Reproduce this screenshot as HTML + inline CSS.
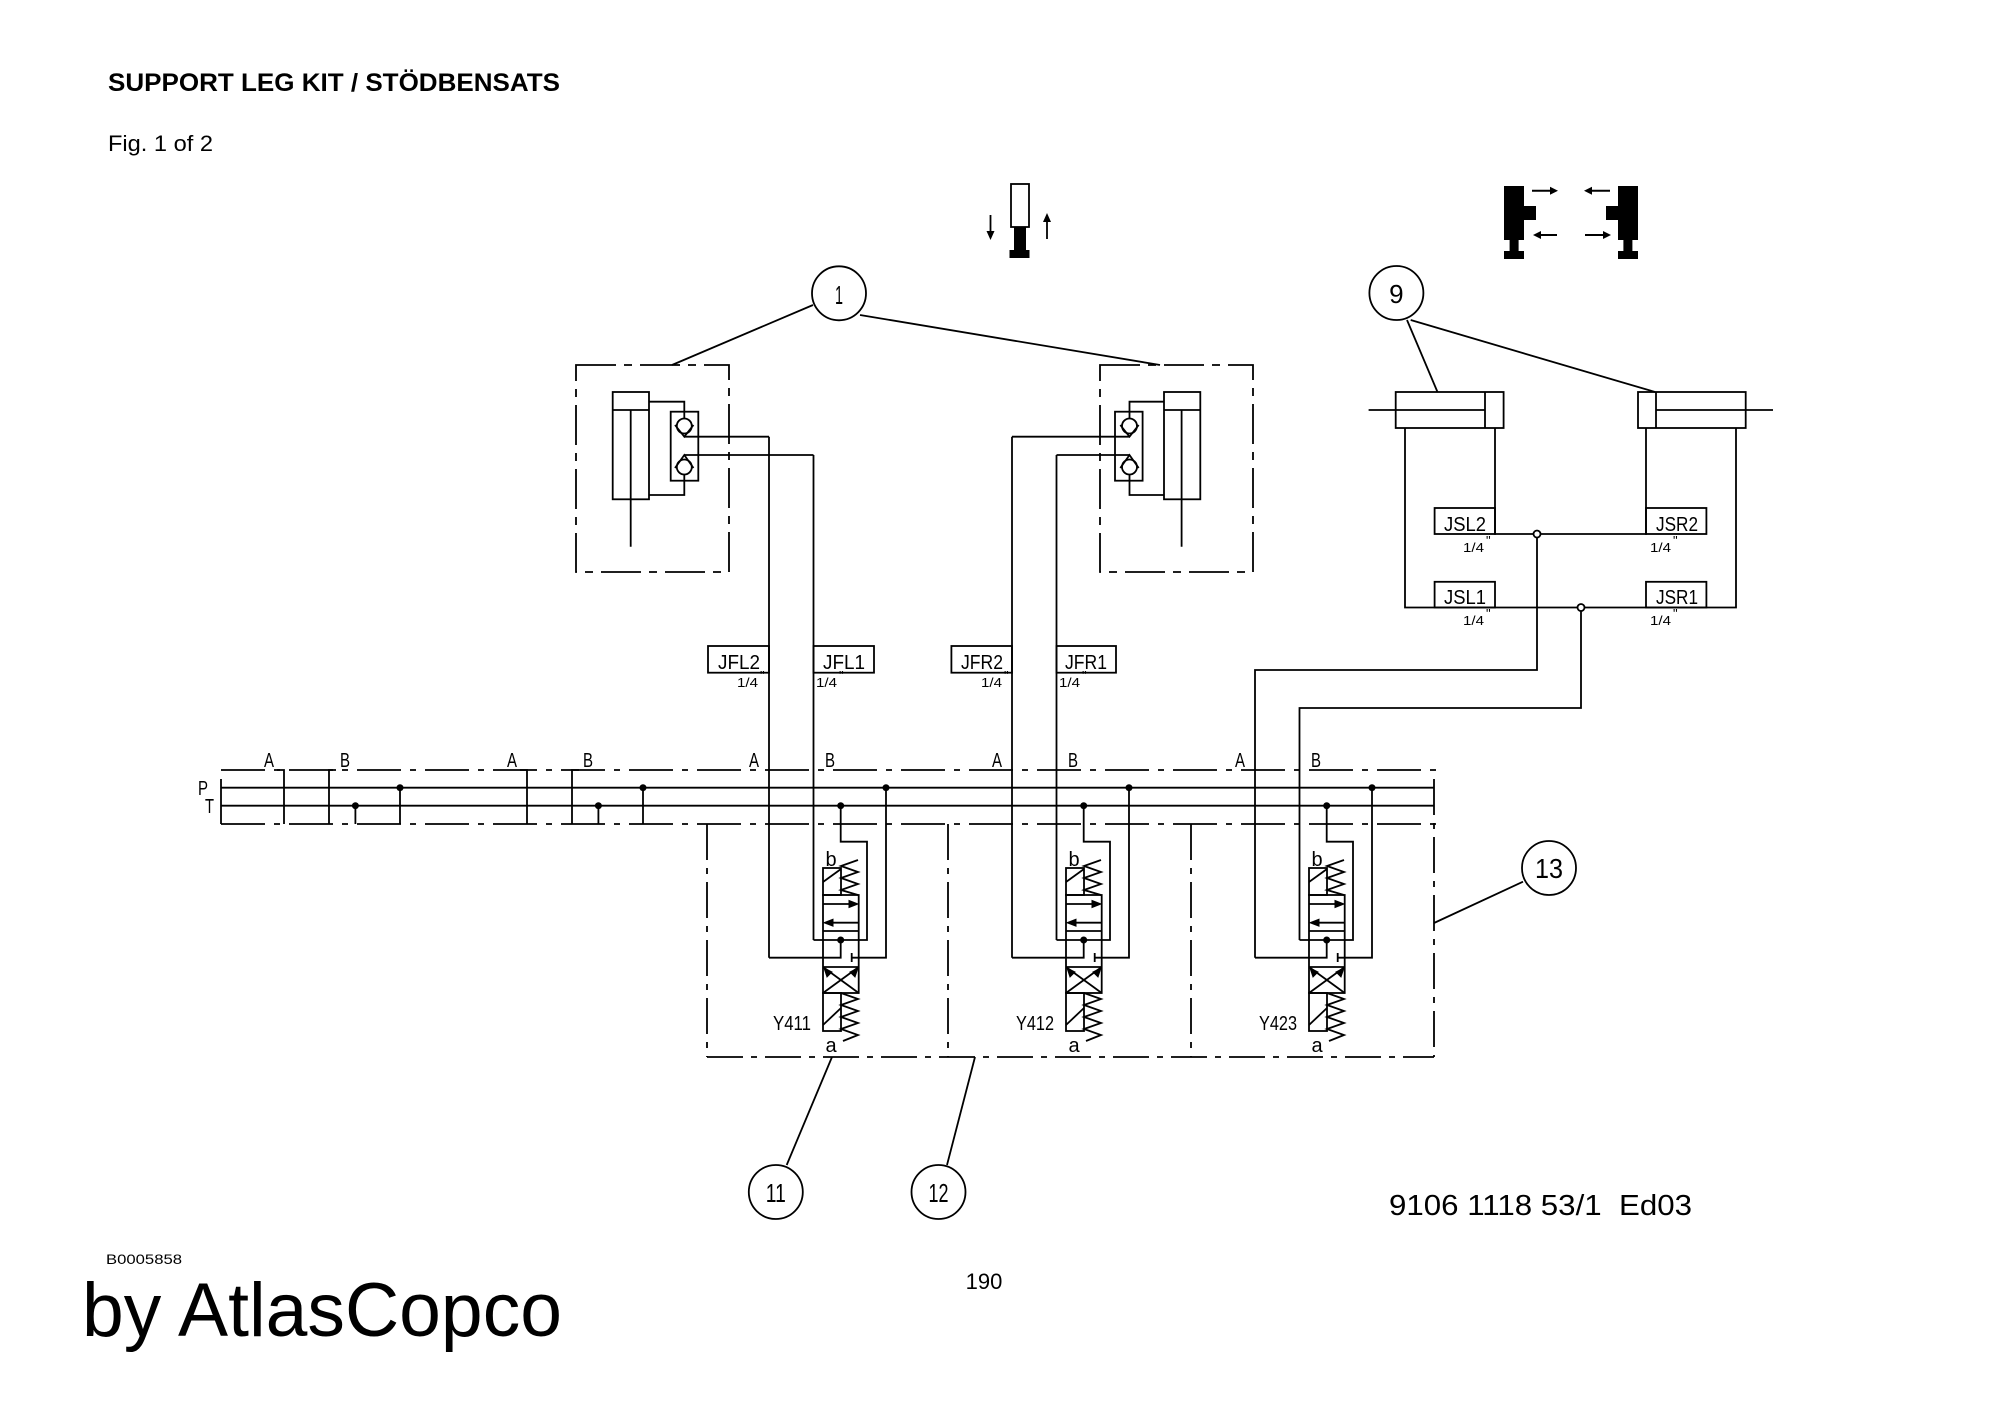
<!DOCTYPE html>
<html><head><meta charset="utf-8"><style>
html,body{margin:0;padding:0;background:#fff;}
svg{display:block;}
text{font-family:"Liberation Sans",sans-serif;fill:#000;}
</style></head><body>
<svg width="2000" height="1415" viewBox="0 0 2000 1415" xmlns="http://www.w3.org/2000/svg">
<defs>
<g id="valve" fill="none" stroke="#000" stroke-width="1.8">
  <path d="M813.5 940 H867 V841.7 H840.7 V805.7"/>
  <path d="M769 957.7 H840.7 V940"/>
  <path d="M886 787.7 V957.7 H851.7"/>
  <path d="M851.7 953 V962"/>
  <rect x="823" y="868" width="18" height="27"/>
  <rect x="823" y="895" width="35.7" height="98"/>
  <rect x="823" y="993" width="18" height="38"/>
  <line x1="823" y1="931" x2="858.7" y2="931"/>
  <line x1="823" y1="967" x2="858.7" y2="967"/>
  <line x1="823" y1="904" x2="856" y2="904"/>
  <line x1="826" y1="922.7" x2="858.7" y2="922.7"/>
  <line x1="823" y1="882" x2="841" y2="869"/>
  <line x1="823" y1="1025" x2="841" y2="1008"/>
  <line x1="823" y1="967" x2="858.7" y2="993"/>
  <line x1="858.7" y1="967" x2="823" y2="993"/>
  <polyline points="858,860 841,866 858,872 841,878 858,884 841,890 858,895"/>
  <polyline points="841,993 858,999 841,1005 858,1011 841,1017 858,1023 841,1029 858,1035 843,1041"/>
  <path d="M858 904 l-9 -3.5 v7 z M824 922.7 l9 -3.5 v7 z M824 968 l3 9 l5 -5 z M858 968 l-3 9 l-5 -5 z" fill="#000" stroke-width="1"/>
  <circle cx="840.7" cy="805.7" r="3.5" fill="#000" stroke="none"/>
  <circle cx="886" cy="787.7" r="3.5" fill="#000" stroke="none"/>
  <circle cx="840.7" cy="940" r="3.5" fill="#000" stroke="none"/>
</g>
</defs>

<text x="108" y="91" font-size="25" font-weight="bold" textLength="452" lengthAdjust="spacingAndGlyphs">SUPPORT LEG KIT / STÖDBENSATS</text>
<text x="108" y="151" font-size="22" textLength="105" lengthAdjust="spacingAndGlyphs">Fig. 1 of 2</text>

<g stroke="#000" fill="none" stroke-width="1.8">
  <rect x="1011" y="184" width="18" height="43"/>
  <line x1="990.5" y1="215" x2="990.5" y2="236"/>
  <line x1="1047" y1="239" x2="1047" y2="218"/>
</g>
<rect x="1014" y="227" width="12" height="24" fill="#000"/>
<rect x="1009.5" y="250" width="20" height="8" fill="#000"/>
<path d="M990.5 240 l-4 -9 h8 z M1047 213 l-4 9 h8 z" fill="#000"/>

<rect x="1504" y="186" width="20" height="54" fill="#000"/>
<rect x="1509.6" y="240" width="9" height="12" fill="#000"/>
<rect x="1504" y="251" width="20" height="8" fill="#000"/>
<rect x="1524" y="206" width="12" height="14" fill="#000"/>
<rect x="1618" y="186" width="20" height="54" fill="#000"/>
<rect x="1623.4" y="240" width="9" height="12" fill="#000"/>
<rect x="1618" y="251" width="20" height="8" fill="#000"/>
<rect x="1606" y="206" width="12" height="14" fill="#000"/>
<g stroke="#000" stroke-width="2">
  <line x1="1532" y1="190.7" x2="1552" y2="190.7"/>
  <line x1="1540" y1="235" x2="1557" y2="235"/>
  <line x1="1590" y1="190.7" x2="1610" y2="190.7"/>
  <line x1="1585" y1="235" x2="1605" y2="235"/>
</g>
<path d="M1558 190.7 l-8 -4 v8 z M1533 235 l8 -4 v8 z M1584 190.7 l8 -4 v8 z M1611 235 l-8 -4 v8 z" fill="#000"/>

<g fill="none" stroke="#000" stroke-width="1.8">
<circle cx="839" cy="293.3" r="27"/>
<line x1="813" y1="305" x2="672" y2="365"/>
<line x1="860" y1="315" x2="1160" y2="365"/>
<circle cx="1396.4" cy="293" r="27"/>
<line x1="1407" y1="320" x2="1437.5" y2="392"/>
<line x1="1410.7" y1="320" x2="1655" y2="392"/>
<circle cx="775.8" cy="1192" r="27"/>
<line x1="786.7" y1="1165" x2="832" y2="1057"/>
<circle cx="938.5" cy="1192" r="27"/>
<line x1="947" y1="1165" x2="975" y2="1057"/>
<circle cx="1549" cy="868" r="27"/>
<line x1="1523" y1="881.7" x2="1434" y2="923"/>

<rect x="576" y="365" width="153" height="207" stroke-dasharray="40 8 8 8"/>
<rect x="612.7" y="392" width="36.3" height="107.3"/>
<line x1="612.7" y1="410" x2="649" y2="410"/>
<line x1="630.7" y1="410" x2="630.7" y2="546.7"/>
<rect x="670.7" y="411.7" width="27.6" height="69"/>
<path d="M649 401.7 H684.3 V418"/>
<path d="M649 495 H684.3 V475"/>
<circle cx="684.3" cy="426" r="7.5"/>
<circle cx="684.3" cy="467" r="7.5"/>
<path d="M675 425 L684.3 436.7 L693.5 425"/>
<path d="M675 468 L684.3 455 L693.5 468"/>
<path d="M684.3 436.7 H769"/>
<path d="M684.3 455 H813.5"/>

<rect x="1100" y="365" width="153" height="207" stroke-dasharray="40 8 8 8"/>
<rect x="1164" y="392" width="36.3" height="107.3"/>
<line x1="1164" y1="410" x2="1200.3" y2="410"/>
<line x1="1181.6" y1="410" x2="1181.6" y2="546.7"/>
<rect x="1115" y="411.7" width="27.6" height="69"/>
<path d="M1164 401.7 H1129.5 V418"/>
<path d="M1164 495 H1129.5 V475"/>
<circle cx="1129.5" cy="426" r="7.5"/>
<circle cx="1129.5" cy="467" r="7.5"/>
<path d="M1120.3 425 L1129.5 436.7 L1138.7 425"/>
<path d="M1120.3 468 L1129.5 455 L1138.7 468"/>
<path d="M1129.5 436.7 H1012"/>
<path d="M1129.5 455 H1056.5"/>

<line x1="769" y1="436.7" x2="769" y2="957.7"/>
<line x1="813.5" y1="455" x2="813.5" y2="940"/>
<line x1="1012" y1="436.7" x2="1012" y2="957.7"/>
<line x1="1056.5" y1="455" x2="1056.5" y2="940"/>
<path d="M1537 534 V670 H1255 V957.7"/>
<path d="M1581 607.5 V708 H1299.5 V940"/>

<rect x="708" y="646" width="61" height="26.7"/>
<rect x="813.5" y="646" width="60.5" height="26.7"/>
<rect x="951.4" y="646" width="60.6" height="26.7"/>
<rect x="1056.5" y="646" width="59.5" height="26.7"/>

<rect x="1395.7" y="392" width="107.9" height="36"/>
<line x1="1485" y1="392" x2="1485" y2="428"/>
<line x1="1368.6" y1="410" x2="1485" y2="410"/>
<rect x="1638" y="392" width="107.7" height="36"/>
<line x1="1656" y1="392" x2="1656" y2="428"/>
<line x1="1656" y1="410" x2="1773" y2="410"/>
<path d="M1405 428 V607.5 H1736 V428"/>
<path d="M1495 428 V534 H1646 V428"/>
<rect x="1434.6" y="508" width="60.4" height="26"/>
<rect x="1646" y="508" width="60.4" height="26"/>
<rect x="1434.6" y="581.8" width="60.4" height="25.7"/>
<rect x="1646" y="581.8" width="60.4" height="25.7"/>
<circle cx="1537" cy="534" r="3.5" fill="#fff"/>
<circle cx="1581" cy="607.5" r="3.5" fill="#fff"/>

<line x1="221" y1="770" x2="1436" y2="770" stroke-dasharray="44 9 6 9"/>
<line x1="221" y1="824" x2="1436" y2="824" stroke-dasharray="44 9 6 9"/>
<line x1="221" y1="787.7" x2="1434" y2="787.7"/>
<line x1="221" y1="805.7" x2="1434" y2="805.7"/>
<line x1="221" y1="779" x2="221" y2="824"/>
<line x1="1434" y1="779" x2="1434" y2="1057" stroke-dasharray="36 8 6 8"/>
<path d="M277 770 H284 V824"/><path d="M329 824 V770 H336"/>
<path d="M355.4 805.7 V824"/><path d="M400 787.7 V824"/>
<path d="M520 770 H527 V824"/><path d="M572 824 V770 H579"/>
<path d="M598.4 805.7 V824"/><path d="M643 787.7 V824"/>
<line x1="707" y1="824" x2="707" y2="1057" stroke-dasharray="36 8 6 8"/>
<line x1="948" y1="824" x2="948" y2="1057" stroke-dasharray="36 8 6 8"/>
<line x1="1191" y1="824" x2="1191" y2="1057" stroke-dasharray="36 8 6 8"/>
<line x1="707" y1="1057" x2="1434" y2="1057" stroke-dasharray="36 8 6 8"/>
</g>
<g fill="#000">
<circle cx="355.4" cy="805.7" r="3.5"/><circle cx="400" cy="787.7" r="3.5"/>
<circle cx="598.4" cy="805.7" r="3.5"/><circle cx="643" cy="787.7" r="3.5"/>
</g>

<use href="#valve"/>
<use href="#valve" transform="translate(243,0)"/>
<use href="#valve" transform="translate(486,0)"/>

<g font-size="20">
<text x="839" y="304" text-anchor="middle" font-size="26" textLength="8" lengthAdjust="spacingAndGlyphs">1</text>
<text x="1396.4" y="303" text-anchor="middle" font-size="26">9</text>
<text x="775.8" y="1202" text-anchor="middle" font-size="26" textLength="20" lengthAdjust="spacingAndGlyphs">11</text>
<text x="938.5" y="1202" text-anchor="middle" font-size="26" textLength="20" lengthAdjust="spacingAndGlyphs">12</text>
<text x="1549" y="878" text-anchor="middle" font-size="28" textLength="28" lengthAdjust="spacingAndGlyphs">13</text>

<text x="198" y="795" font-size="20" textLength="10" lengthAdjust="spacingAndGlyphs">P</text>
<text x="205" y="813" font-size="20" textLength="9" lengthAdjust="spacingAndGlyphs">T</text>
<text x="269" y="767" text-anchor="middle" textLength="10" lengthAdjust="spacingAndGlyphs">A</text>
<text x="345" y="767" text-anchor="middle" textLength="10" lengthAdjust="spacingAndGlyphs">B</text>
<text x="512" y="767" text-anchor="middle" textLength="10" lengthAdjust="spacingAndGlyphs">A</text>
<text x="588" y="767" text-anchor="middle" textLength="10" lengthAdjust="spacingAndGlyphs">B</text>
<text x="754" y="767" text-anchor="middle" textLength="10" lengthAdjust="spacingAndGlyphs">A</text>
<text x="830" y="767" text-anchor="middle" textLength="10" lengthAdjust="spacingAndGlyphs">B</text>
<text x="997" y="767" text-anchor="middle" textLength="10" lengthAdjust="spacingAndGlyphs">A</text>
<text x="1073" y="767" text-anchor="middle" textLength="10" lengthAdjust="spacingAndGlyphs">B</text>
<text x="1240" y="767" text-anchor="middle" textLength="10" lengthAdjust="spacingAndGlyphs">A</text>
<text x="1316" y="767" text-anchor="middle" textLength="10" lengthAdjust="spacingAndGlyphs">B</text>

<text x="718" y="669" textLength="42" lengthAdjust="spacingAndGlyphs">JFL2</text>
<text x="823" y="669" textLength="42" lengthAdjust="spacingAndGlyphs">JFL1</text>
<text x="961" y="669" textLength="42" lengthAdjust="spacingAndGlyphs">JFR2</text>
<text x="1065" y="669" textLength="42" lengthAdjust="spacingAndGlyphs">JFR1</text>
<text x="1444" y="531" textLength="42" lengthAdjust="spacingAndGlyphs">JSL2</text>
<text x="1656" y="531" textLength="42" lengthAdjust="spacingAndGlyphs">JSR2</text>
<text x="1444" y="604" textLength="42" lengthAdjust="spacingAndGlyphs">JSL1</text>
<text x="1656" y="604" textLength="42" lengthAdjust="spacingAndGlyphs">JSR1</text>

<text x="831" y="866" text-anchor="middle">b</text>
<text x="1074" y="866" text-anchor="middle">b</text>
<text x="1317" y="866" text-anchor="middle">b</text>
<text x="831" y="1052" text-anchor="middle">a</text>
<text x="1074" y="1052" text-anchor="middle">a</text>
<text x="1317" y="1052" text-anchor="middle">a</text>
<text x="773" y="1030" textLength="38" lengthAdjust="spacingAndGlyphs">Y411</text>
<text x="1016" y="1030" textLength="38" lengthAdjust="spacingAndGlyphs">Y412</text>
<text x="1259" y="1030" textLength="38" lengthAdjust="spacingAndGlyphs">Y423</text>
</g>
<g font-size="13">
<text x="737" y="687" textLength="21" lengthAdjust="spacingAndGlyphs">1/4</text><text x="760" y="680">"</text>
<text x="816" y="687" textLength="21" lengthAdjust="spacingAndGlyphs">1/4</text><text x="839" y="680">"</text>
<text x="981" y="687" textLength="21" lengthAdjust="spacingAndGlyphs">1/4</text><text x="1004" y="680">"</text>
<text x="1059" y="687" textLength="21" lengthAdjust="spacingAndGlyphs">1/4</text><text x="1082" y="680">"</text>
<text x="1463" y="552" textLength="21" lengthAdjust="spacingAndGlyphs">1/4</text><text x="1486" y="545">"</text>
<text x="1650" y="552" textLength="21" lengthAdjust="spacingAndGlyphs">1/4</text><text x="1673" y="545">"</text>
<text x="1463" y="625" textLength="21" lengthAdjust="spacingAndGlyphs">1/4</text><text x="1486" y="618">"</text>
<text x="1650" y="625" textLength="21" lengthAdjust="spacingAndGlyphs">1/4</text><text x="1673" y="618">"</text>
</g>

<text x="1389" y="1215" font-size="29" textLength="303" lengthAdjust="spacingAndGlyphs">9106 1118 53/1 &#160;Ed03</text>
<text x="106" y="1264" font-size="14" textLength="76" lengthAdjust="spacingAndGlyphs">B0005858</text>
<text x="984" y="1289" font-size="22" text-anchor="middle">190</text>
<text x="82" y="1336" font-size="76" textLength="480" lengthAdjust="spacingAndGlyphs">by AtlasCopco</text>
</svg>
</body></html>
